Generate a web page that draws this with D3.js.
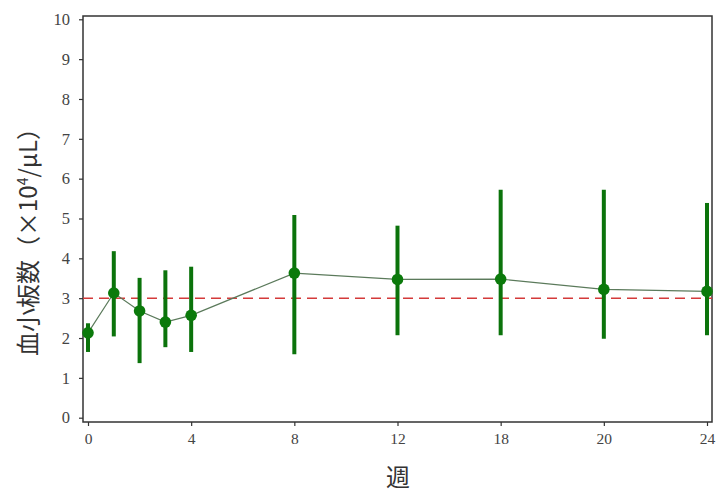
<!DOCTYPE html>
<html><head><meta charset="utf-8">
<script src="https://cdn.jsdelivr.net/npm/d3@7"></script>
<style>
body{margin:0;background:#fff;}
svg{display:block;}
.tick text{font-family:"Liberation Serif","DejaVu Serif",serif;}
</style>
</head><body>
<svg id="c" width="720" height="493"></svg>
<script>
// Data
const weeks = [0, 1, 2, 3, 4, 8, 12, 18, 20, 24];
const means = [2.13, 3.13, 2.68, 2.40, 2.57, 3.63, 3.47, 3.48, 3.22, 3.17];
const lower = [1.65, 2.04, 1.37, 1.77, 1.65, 1.59, 2.07, 2.07, 1.98, 2.07];
const upper = [2.37, 4.18, 3.51, 3.70, 3.79, 5.09, 4.82, 5.72, 5.72, 5.39];
const xTicks = [0, 4, 8, 12, 18, 20, 24];
const yTicks = [0, 1, 2, 3, 4, 5, 6, 7, 8, 9, 10];
const refLine = 3;

const svg = d3.select("#c");
const frame = {l: 83, r: 712, t: 16, b: 422};
const x0 = 88, x1 = 707;
const step = (x1 - x0) / (xTicks.length - 1);
const x = d3.scaleLinear().domain(xTicks).range(xTicks.map((d, i) => x0 + i * step));
const y = d3.scaleLinear().domain([0, 10]).range([417.7, 19.3]);

// frame
svg.append("rect").attr("x", frame.l).attr("y", frame.t)
  .attr("width", frame.r - frame.l).attr("height", frame.b - frame.t)
  .attr("fill", "none").attr("stroke", "#333").attr("stroke-width", 1.5);

// y axis
const ya = svg.append("g").attr("transform", `translate(${frame.l},0)`)
  .call(d3.axisLeft(y).tickValues(yTicks).tickSize(4).tickPadding(9));
ya.select(".domain").remove();
ya.selectAll(".tick line").attr("stroke", "#333").attr("stroke-width", 1.2);
ya.selectAll(".tick text").attr("font-size", 16.5).attr("fill", "#444");

// x axis
const xa = svg.append("g").attr("transform", `translate(0,${frame.b})`)
  .call(d3.axisBottom(x).tickValues(xTicks).tickSize(4).tickPadding(7));
xa.select(".domain").remove();
xa.selectAll(".tick line").attr("stroke", "#333").attr("stroke-width", 1.2);
xa.selectAll(".tick text").attr("font-size", 15.5).attr("fill", "#444");

// reference line
svg.append("line").attr("x1", frame.l).attr("x2", frame.r)
  .attr("y1", y(refLine)).attr("y2", y(refLine))
  .attr("stroke", "#d43a3a").attr("stroke-width", 1.6).attr("stroke-dasharray", "10,6");

const data = weeks.map((w, i) => ({w, m: means[i], lo: lower[i], hi: upper[i]}));

// error bars
svg.append("g").selectAll("line").data(data).join("line")
  .attr("x1", d => x(d.w)).attr("x2", d => x(d.w))
  .attr("y1", d => y(d.lo)).attr("y2", d => y(d.hi))
  .attr("stroke", "#0b730b").attr("stroke-width", 4);

// connecting line
svg.append("path").datum(data)
  .attr("d", d3.line().x(d => x(d.w)).y(d => y(d.m)))
  .attr("fill", "none").attr("stroke", "#5b7a5b").attr("stroke-width", 1.2);

// points
svg.append("g").selectAll("circle").data(data).join("circle")
  .attr("cx", d => x(d.w)).attr("cy", d => y(d.m)).attr("r", 5.8)
  .attr("fill", "#0b7a0b");

// axis titles
svg.append("text").attr("x", 398).attr("y", 486).attr("text-anchor", "middle")
  .attr("font-family", "'Noto Sans CJK JP', sans-serif").attr("font-size", 24).attr("fill", "#333")
  .text("週");

const yt = svg.append("text").attr("transform", "translate(37,236) rotate(-90)")
  .attr("text-anchor", "middle")
  .attr("font-family", "'Noto Sans CJK JP', sans-serif").attr("font-size", 24).attr("fill", "#333");
yt.append("tspan").text("血小板数（×10");
yt.append("tspan").attr("font-size", 14).attr("dy", -9).text("4");
yt.append("tspan").attr("dy", 9).text("/μL）");
</script>
</body></html>
